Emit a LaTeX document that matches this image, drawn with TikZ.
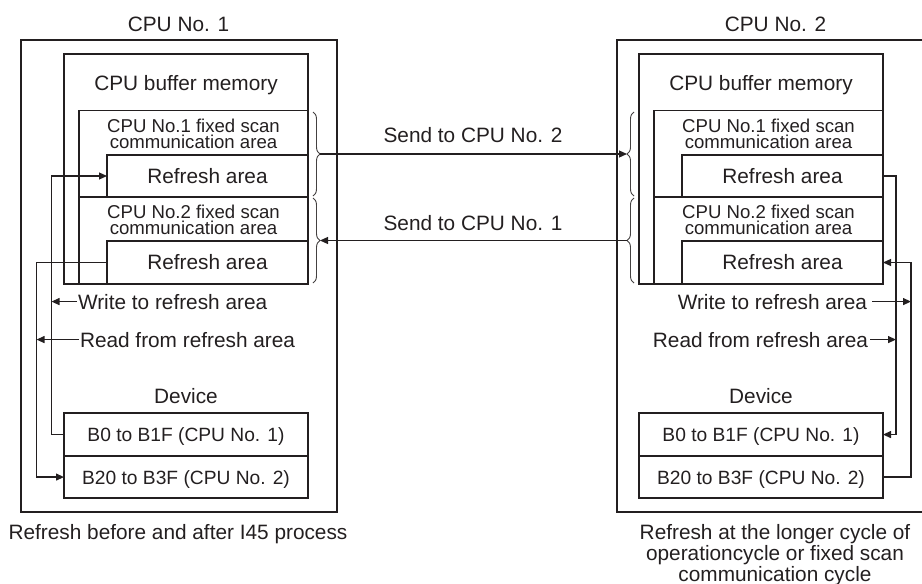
\documentclass[tikz,border=0pt]{standalone}
\usepackage{fontspec}
\setmainfont{Liberation Sans}
\usetikzlibrary{arrows.meta,decorations.pathreplacing,calc}
\definecolor{ink}{HTML}{231F20}

\begin{document}
\begin{tikzpicture}[x=1pt,y=-1pt,
  every node/.style={text=ink, inner sep=0pt, outer sep=0pt},
  box/.style={draw=ink, line width=1.2pt, anchor=north west},
  heavy/.style={line width=2pt},
  lbl/.style={font=\fontsize{20.8}{21}\selectfont, anchor=base},
  small/.style={font=\fontsize{18.6}{17}\selectfont, anchor=base},
  refbox/.style={box, minimum width=201pt, font=\fontsize{20.8}{21}\selectfont},
  areabox/.style={box, minimum width=229pt},
  row/.style={box, heavy, minimum width=244pt, minimum height=42.5pt,
    font=\fontsize{19.2}{20}\selectfont, text depth=0pt},
  link/.style={draw=ink, line width=1.2pt, -{Triangle[length=8pt,width=7pt]}},
  brc/.style={draw=ink!85, line width=0.9pt, decorate,
    decoration={brace, amplitude=7pt}},
]
\path[use as bounding box] (0,0) rectangle (922,584);
\clip (0,0) rectangle (922,584);

% ---------- CPU No. 1 ----------
\node[lbl] (t1) at (178.5,31) {CPU No. 1};
\node[box, heavy, minimum width=316pt, minimum height=472pt] (cpu1) at (21,40) {};

\node[areabox, minimum height=86.5pt] (a11) at (79,110.5) {};
\node[refbox, minimum height=42pt] (r11) at (107,155) {Refresh area};
\node[areabox, minimum height=87pt] (a12) at (79,197) {};
\node[refbox, minimum height=43pt] (r12) at (107,241) {Refresh area};
\draw[ink, heavy] (a12.north west) -- (a12.north east);
\node[box, heavy, minimum width=244pt, minimum height=230pt] (buf1) at (64,54) {};

\node[lbl] (m1) at (186,90) {CPU buffer memory};
\node[small] (a11x) at (193.5,132) {CPU No.1 fixed scan};
\node[small] (a11y) at (193.5,148.5) {communication area};
\node[small] (a12x) at (193.5,218) {CPU No.2 fixed scan};
\node[small] (a12y) at (193.5,234.5) {communication area};

\node[lbl] (dv1) at (186,403) {Device};
\node[row] (d1a) at (64,413.3) {B0 to B1F (CPU No. 1)};
\node[row] (d1b) at (64,455.8) {B20 to B3F (CPU No. 2)};

\node[lbl, anchor=base west, inner xsep=1pt] (w1) at (77,309) {Write to refresh area};
\node[lbl, anchor=base west, inner xsep=1pt] (rd1) at (79,347) {Read from refresh area};

\node[lbl] (f1) at (178,539) {Refresh before and after I45 process};

% ---------- CPU No. 2 ----------
\node[lbl] (t2) at (775.5,31) {CPU No. 2};
\node[box, heavy, minimum width=316pt, minimum height=472pt] (cpu2) at (617,40) {};

\node[areabox, minimum height=86.5pt] (a21) at (654,110.5) {};
\node[refbox, minimum height=42pt] (r21) at (682,155) {Refresh area};
\node[areabox, minimum height=87pt] (a22) at (654,197) {};
\node[refbox, minimum height=43pt] (r22) at (682,241) {Refresh area};
\draw[ink, heavy] (a22.north west) -- (a22.north east);
\node[box, heavy, minimum width=244pt, minimum height=230pt] (buf2) at (639,54) {};

\node[lbl] (m2) at (761,90) {CPU buffer memory};
\node[small] (a21x) at (768.5,132) {CPU No.1 fixed scan};
\node[small] (a21y) at (768.5,148.5) {communication area};
\node[small] (a22x) at (768.5,218) {CPU No.2 fixed scan};
\node[small] (a22y) at (768.5,234.5) {communication area};

\node[lbl] (dv2) at (761,403) {Device};
\node[row] (d2a) at (639,413.3) {B0 to B1F (CPU No. 1)};
\node[row] (d2b) at (639,455.8) {B20 to B3F (CPU No. 2)};

\node[lbl, anchor=base east, inner xsep=5pt] (w2) at (872,309) {Write to refresh area};
\node[lbl, anchor=base east, inner xsep=2pt] (rd2) at (870,347) {Read from refresh area};

\node[font=\fontsize{20.8}{21}\selectfont, align=center, anchor=north] (f2) at (775,524)
  {Refresh at the longer cycle of\\operationcycle or fixed scan\\communication cycle};

% ---------- braces round the communication areas ----------
\draw[brc] (313,112) -- (313,196);
\draw[brc] (313,198) -- (313,283);
\draw[brc] (634,196) -- (634,112);
\draw[brc] (634,283) -- (634,198);
\coordinate (b11) at (320,154);
\coordinate (b12) at (320,240.5);
\coordinate (b21) at (627,154);
\coordinate (b22) at (627,240.5);

% ---------- transfers between the CPUs ----------
\node[lbl] (s2) at (473,142) {Send to CPU No. 2};
\node[lbl] (s1) at (473,230.5) {Send to CPU No. 1};
\draw[link] (b11) -- (b21);
\draw[link] (b22) -- (b12);

% ---------- refresh paths ----------
\coordinate (lw) at (51.5,0);
\coordinate (lr) at (36.5,0);
\coordinate (rr) at (896,0);
\coordinate (rw) at (911,0);

\draw[link] (d1a.west) -| (lw |- r11.west) -- (r11.west);
\draw[link] (r12.west) -| (lr |- d1b.west) -- (d1b.west);
\draw[link] (w1.west) -- (w1.west -| lw);
\draw[link] (rd1.west) -- (rd1.west -| lr);

\draw[link] (r21.east) -| (rr |- d2a.east) -- (d2a.east);
\draw[link] (d2b.east) -| (rw |- r22.east) -- (r22.east);
\draw[link] (w2.east) -- (w2.east -| rw);
\draw[link] (rd2.east) -- (rd2.east -| rr);
\end{tikzpicture}
\end{document}
